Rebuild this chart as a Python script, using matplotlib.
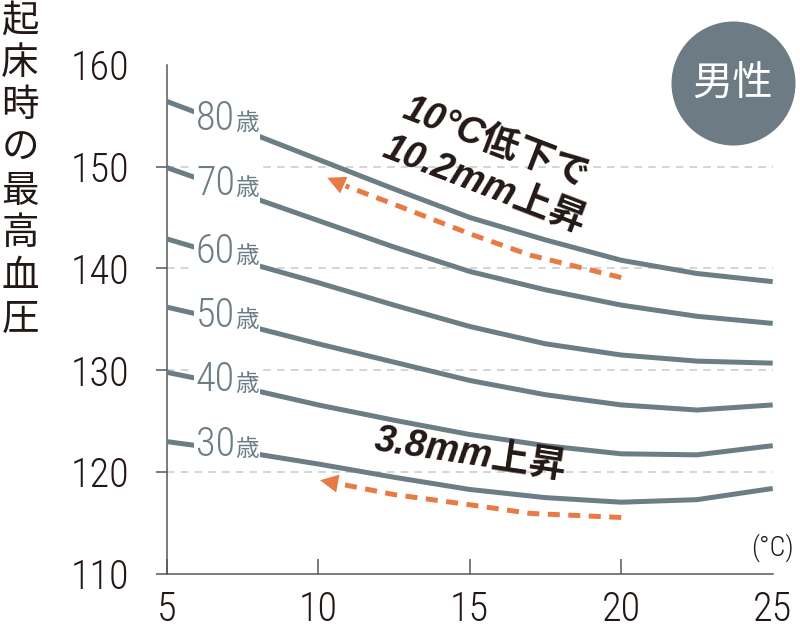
import matplotlib
matplotlib.use("Agg")
import matplotlib.pyplot as plt
import numpy as np
from matplotlib import font_manager
from matplotlib.offsetbox import TextArea, HPacker, AnnotationBbox

# temperature (°C) and systolic BP on waking, by age group (men)
temps = [5, 7.5, 10, 12.5, 15, 17.5, 20, 22.5, 25]
ages = [80, 70, 60, 50, 40, 30]
bp_80 = [156.4, 153.6, 150.7, 147.8, 145.0, 142.8, 140.8, 139.5, 138.7]
bp_70 = [149.9, 147.3, 144.7, 142.1, 139.7, 137.9, 136.4, 135.3, 134.6]
bp_60 = [142.9, 140.7, 138.6, 136.4, 134.3, 132.6, 131.5, 130.9, 130.7]
bp_50 = [136.2, 134.5, 132.6, 130.8, 129.0, 127.6, 126.6, 126.1, 126.6]
bp_40 = [129.8, 128.3, 126.6, 125.1, 123.7, 122.6, 121.8, 121.7, 122.6]
bp_30 = [123.0, 122.0, 120.8, 119.5, 118.3, 117.5, 117.05, 117.3, 118.4]
series = [bp_80, bp_70, bp_60, bp_50, bp_40, bp_30]

# orange arrows (tail at 20°C, head at 10°C)
arrow_hi_x = [20, 17, 15, 12.5, 10.9, 10.3]
arrow_hi_y = [139.1, 141.3, 143.4, 146.3, 148.1, 148.9]
arrow_lo_x = [20, 17, 15, 12.5, 10.7, 10.06]
arrow_lo_y = [115.55, 115.95, 116.8, 117.8, 118.85, 119.2]

x_ticks = [5, 10, 15, 20, 25]
y_ticks = [110, 120, 130, 140, 150, 160]

LINE = "#6c7d86"
ORANGE = "#e87a45"
INK = "#231815"
SPINE = "#595757"
JP = ["Noto Sans CJK JP", "DejaVu Sans"]


def pick_narrow():
    entries = font_manager.fontManager.ttflist
    for name in ["Liberation Sans Narrow", "Roboto Condensed", "Open Sans Condensed",
                 "Noto Sans Condensed", "DejaVu Sans Condensed"]:
        if any(f.name == name for f in entries):
            return name, "normal", True
    for name in ["Noto Sans", "DejaVu Sans", "Open Sans", "Roboto", "Inter"]:
        for f in entries:
            if f.name == name and f.stretch in ("condensed", "semi-condensed",
                                                "extra-condensed", "ultra-condensed"):
                return name, f.stretch, True
    return "Roboto", "normal", False


narrow_name, narrow_stretch, is_narrow = pick_narrow()
NARROW = dict(family=[narrow_name, "DejaVu Sans"], fontstretch=narrow_stretch,
              fontweight="light")
tick_size = 29 if is_narrow else 26
age_size = 29 if is_narrow else 26

fig = plt.figure(figsize=(8, 6.31), dpi=100)
ax = fig.add_axes([0.2084, 0.0903, 0.7575, 0.8072])
ax.set_xlim(5, 25)
ax.set_ylim(110, 160)

for vals in series:
    ax.plot(temps, vals, color=LINE, lw=3.6, solid_capstyle="butt",
            solid_joinstyle="round", zorder=3, clip_on=False)

# age labels sit on the lines, white box hides the line behind
label_x = 7.0
for age, vals in zip(ages, series):
    ly = np.interp(label_x, temps, vals) + 0.5
    num = TextArea(str(age), textprops=dict(color=LINE, fontsize=age_size, **NARROW))
    sai = TextArea("歳", textprops=dict(color=LINE, fontsize=17, family=JP))
    box = HPacker(children=[num, sai], align="baseline", pad=0, sep=0)
    ab = AnnotationBbox(box, (label_x, ly), frameon=True, pad=0.12,
                        bboxprops=dict(fc="white", ec="none"), zorder=4)
    ax.add_artist(ab)

# arrows
for arr_x, arr_y in [(arrow_hi_x, arrow_hi_y), (arrow_lo_x, arrow_lo_y)]:
    ax.plot(arr_x[:-1], arr_y[:-1], color=ORANGE, lw=3.6, ls=(0, (2.4, 1.7)),
            dash_capstyle="butt", zorder=3)
    ax.annotate("", xy=(arr_x[-1], arr_y[-1]), xytext=(arr_x[-2], arr_y[-2]),
                arrowprops=dict(arrowstyle="-|>,head_length=1.3,head_width=0.65",
                                color=ORANGE, lw=0, shrinkA=0, shrinkB=0),
                zorder=3)

# texts
bold_it = dict(family=["Liberation Sans", "Noto Sans CJK JP"], weight="bold",
               style="italic", color=INK, fontsize=27, ha="center", va="center",
               transform=ax.transAxes)
ax.text(0.5434, 0.8463, "10°C低下で", rotation=-21, **bold_it)
ax.text(0.5236, 0.7638, "10.2mm上昇", rotation=-21, **bold_it)
ax.text(0.502, 0.2356, "3.8mm上昇", rotation=-8.5, **bold_it)
ax.text(0.9989, 0.051, "(°C)", fontsize=20, color=INK, ha="center", va="center",
        transform=ax.transAxes, **NARROW)

# badge
ax.scatter([0.9345], [0.964], s=7974, color="#6c7b84", linewidths=0,
           transform=ax.transAxes, clip_on=False, zorder=5)
ax.text(0.9345, 0.964, "男性", family=JP, fontsize=29, color="white",
        ha="center", va="center", transform=ax.transAxes, zorder=6)

# y label, stacked characters
fig.text(0.025, 0.998, "\n".join("起床時の最高血圧"), family=JP, fontsize=27,
         color=INK, ha="center", va="top", linespacing=1.12)

# axes styling
ax.spines[["top", "right"]].set_visible(False)
for s in ["left", "bottom"]:
    ax.spines[s].set_color(SPINE)
    ax.spines[s].set_linewidth(1.1)
ax.set_xticks(x_ticks)
ax.set_yticks(y_ticks)
ax.tick_params(axis="y", direction="out", length=8, width=1.1, pad=19,
               color=SPINE, labelsize=tick_size, labelcolor=INK)
ax.tick_params(axis="x", direction="in", length=11, width=1.1, pad=12,
               color=SPINE, labelsize=tick_size, labelcolor=INK)
for lab in ax.get_xticklabels() + ax.get_yticklabels():
    lab.set_family(NARROW["family"])
    lab.set_fontstretch(narrow_stretch)
    lab.set_fontweight("light")
ax.xaxis.get_major_ticks()[-1].tick1line.set_visible(False)
ax.yaxis.get_major_ticks()[-1].tick1line.set_visible(False)

ax.yaxis.grid(True, color="#c9c9c9", lw=1.1, ls=(0, (5, 4)), zorder=1)
grid = ax.get_ygridlines()
grid[0].set_visible(False)
grid[-1].set_visible(False)
ax.set_axisbelow(True)

fig.savefig("out.png", dpi=100)
